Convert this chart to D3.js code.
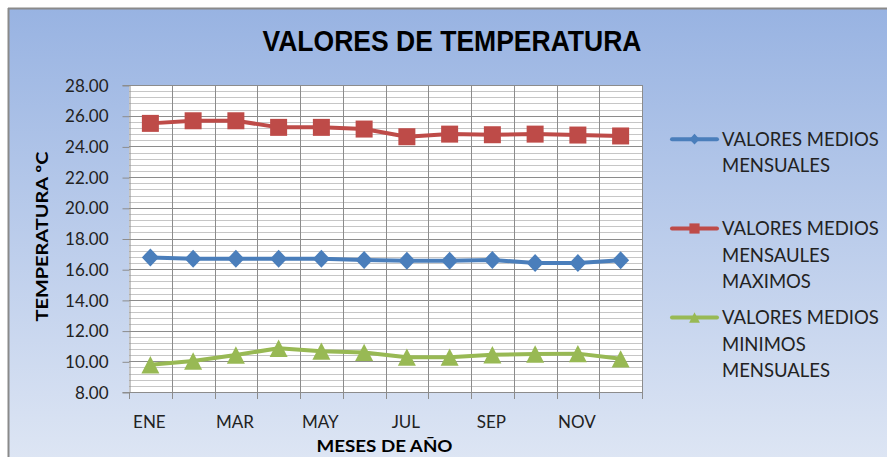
<!DOCTYPE html>
<html>
<head>
<meta charset="utf-8">
<script src="https://cdn.jsdelivr.net/npm/d3@7"></script>
<style>
  html, body { margin: 0; padding: 0; background: #ffffff; }
  svg { display: block; }
</style>
</head>
<body>
<svg id="chart" width="887" height="457"></svg>
<script>
// ---------- DATA ----------
const months = ["ENE","FEB","MAR","ABR","MAY","JUN","JUL","AGO","SEP","OCT","NOV","DIC"];
const shownMonthLabels = ["ENE","MAR","MAY","JUL","SEP","NOV"];
const yTicks = [8,10,12,14,16,18,20,22,24,26,28];
const seriesNames = [
  ["VALORES MEDIOS","MENSUALES"],
  ["VALORES MEDIOS","MENSAULES","MAXIMOS"],
  ["VALORES MEDIOS","MINIMOS","MENSUALES"]
];
const mediosMensuales = [16.77,16.68,16.68,16.68,16.68,16.6,16.55,16.55,16.6,16.4,16.4,16.58];
const mediosMaximos   = [25.5,25.67,25.67,25.24,25.24,25.13,24.63,24.8,24.76,24.8,24.74,24.68];
const mediosMinimos   = [9.78,10.02,10.41,10.85,10.66,10.58,10.27,10.27,10.43,10.48,10.5,10.16];
const chartTitle = "VALORES DE TEMPERATURA";
const yAxisTitle = "TEMPERATURA  ºC";
const xAxisTitle = "MESES DE AÑO";

// ---------- LAYOUT ----------
const svg = d3.select("#chart");
const W = 887, H = 457;
const plot = {left: 129, right: 642, top: 85, bottom: 392};
const colors = ["#4A7EBB", "#BE4B48", "#98B954"];
const fontFam = "Lato, 'Open Sans', sans-serif";

// background gradient
const defs = svg.append("defs");
const grad = defs.append("linearGradient").attr("id","bg").attr("x1",0).attr("y1",0).attr("x2",0).attr("y2",1);
grad.append("stop").attr("offset","0%").attr("stop-color","#98B3E2");
grad.append("stop").attr("offset","100%").attr("stop-color","#DEE6F4");

svg.append("rect").attr("x",0).attr("y",0).attr("width",W).attr("height",H).attr("fill","#ffffff");
svg.append("rect").attr("x",8).attr("y",8).attr("width",W).attr("height",H).attr("fill","url(#bg)");
svg.append("line").attr("x1",8).attr("x2",W).attr("y1",8.5).attr("y2",8.5).attr("stroke","#8a8a8a").attr("stroke-width",2);
svg.append("line").attr("x1",8.5).attr("x2",8.5).attr("y1",8).attr("y2",H).attr("stroke","#8a8a8a").attr("stroke-width",2);

// scales
const x = d3.scaleBand().domain(months).range([plot.left, plot.right]).padding(0);
const y = d3.scaleLinear().domain([8, 28]).range([plot.bottom, plot.top]);

// plot area
svg.append("rect").attr("x",plot.left).attr("y",plot.top)
  .attr("width",plot.right-plot.left).attr("height",plot.bottom-plot.top).attr("fill","#ffffff");

// minor gridlines (every 0.4)
const minorTicks = d3.range(8, 28.0001, 0.4).filter(v => Math.abs(v/2 - Math.round(v/2)) > 1e-6);
svg.append("g").selectAll("line").data(minorTicks).join("line")
  .attr("x1",plot.left).attr("x2",plot.right)
  .attr("y1",d => Math.round(y(d))+0.5).attr("y2",d => Math.round(y(d))+0.5)
  .attr("stroke","#c6c6c6").attr("stroke-width",1);

// major gridlines
svg.append("g").selectAll("line").data(yTicks).join("line")
  .attr("x1",plot.left).attr("x2",plot.right)
  .attr("y1",d => Math.round(y(d))+0.5).attr("y2",d => Math.round(y(d))+0.5)
  .attr("stroke","#8c8c8c").attr("stroke-width",1);

// vertical gridlines at category boundaries
const boundaries = months.map(m => x(m)).concat([plot.right]);
svg.append("g").selectAll("line").data(boundaries.slice(1)).join("line")
  .attr("x1",d => Math.round(d)+0.5).attr("x2",d => Math.round(d)+0.5)
  .attr("y1",plot.top).attr("y2",plot.bottom)
  .attr("stroke","#8c8c8c").attr("stroke-width",1);

// y axis
const yAxis = d3.axisLeft(y).tickValues(yTicks).tickFormat(d3.format(".2f")).tickSize(7).tickPadding(14);
const gy = svg.append("g").attr("transform",`translate(${plot.left+0.5},0)`).call(yAxis);
gy.select(".domain").attr("stroke","#8c8c8c");
gy.selectAll(".tick line").attr("stroke","#8c8c8c").attr("transform","translate(0,0.5)");
gy.selectAll(".tick text").attr("font-family",fontFam).attr("font-size",17).attr("fill","#222")
  .attr("dy","0.36em");

// x axis: tick marks at boundaries
svg.append("line").attr("x1",plot.left).attr("x2",plot.right)
  .attr("y1",plot.bottom+0.5).attr("y2",plot.bottom+0.5).attr("stroke","#8c8c8c");
svg.append("g").selectAll("line").data(boundaries).join("line")
  .attr("x1",d => Math.round(d)+0.5).attr("x2",d => Math.round(d)+0.5)
  .attr("y1",plot.bottom).attr("y2",plot.bottom+7)
  .attr("stroke","#8c8c8c");
svg.append("g").selectAll("text").data(shownMonthLabels).join("text")
  .attr("x",d => x(d) + x.bandwidth()/2 - 1)
  .attr("y",428)
  .attr("text-anchor","middle")
  .attr("font-family",fontFam).attr("font-size",17).attr("fill","#222")
  .text(d => d);

// series
const allSeries = [mediosMensuales, mediosMaximos, mediosMinimos];
const cx = i => x(months[i]) + x.bandwidth()/2;
const line = d3.line().x((d,i) => cx(i)).y(d => y(d));

allSeries.forEach((vals, s) => {
  svg.append("path").datum(vals).attr("d", line)
    .attr("fill","none").attr("stroke",colors[s]).attr("stroke-width",4).attr("stroke-linejoin","round");
});

function markerPath(s, px, py, scale) {
  const p = d3.path();
  if (s === 0) { // diamond
    const hw = 8.5*scale, hh = 9*scale;
    p.moveTo(px, py-hh); p.lineTo(px+hw, py); p.lineTo(px, py+hh); p.lineTo(px-hw, py); p.closePath();
  } else if (s === 1) { // square
    const h = 8.5*scale;
    p.rect(px-h, py-h, 2*h, 2*h);
  } else { // triangle
    const hw = 9*scale, hh = 8.7*scale;
    p.moveTo(px, py-hh); p.lineTo(px+hw, py+hh); p.lineTo(px-hw, py+hh); p.closePath();
  }
  return p.toString();
}

allSeries.forEach((vals, s) => {
  svg.append("g").selectAll("path").data(vals).join("path")
    .attr("d",(d,i) => markerPath(s, cx(i), y(d), 1))
    .attr("fill",colors[s]);
});

// title
svg.append("text").attr("x",452).attr("y",51).attr("text-anchor","middle")
  .attr("font-family","'Liberation Sans', Arial, sans-serif").attr("font-weight","bold")
  .attr("font-size",29).attr("fill","#000")
  .attr("textLength",379).attr("lengthAdjust","spacingAndGlyphs")
  .text(chartTitle);

// y axis title
svg.append("text").attr("transform",`translate(48,${(plot.top+plot.bottom)/2 - 2}) rotate(-90)`)
  .attr("text-anchor","middle")
  .attr("font-family",fontFam).attr("font-weight","bold").attr("font-size",17).attr("fill","#000")
  .attr("textLength",170).attr("lengthAdjust","spacingAndGlyphs")
  .text(yAxisTitle);

// x axis title
svg.append("text").attr("x",(plot.left+plot.right)/2 - 1).attr("y",452).attr("text-anchor","middle")
  .attr("font-family",fontFam).attr("font-weight","bold").attr("font-size",17).attr("fill","#000")
  .attr("textLength",136).attr("lengthAdjust","spacingAndGlyphs")
  .text(xAxisTitle);

// legend
const legendFirstBaseline = [145.7, 235, 324];
const lineH = 26.5;
seriesNames.forEach((lines, s) => {
  const b = legendFirstBaseline[s];
  const ly = b - 6.5;
  svg.append("line").attr("x1",672).attr("x2",717).attr("y1",ly).attr("y2",ly)
    .attr("stroke",colors[s]).attr("stroke-width",4).attr("stroke-linecap","round");
  svg.append("path").attr("d", markerPath(s, 694.5, ly, 0.6)).attr("fill",colors[s]);
  const t = svg.append("text").attr("font-family",fontFam).attr("font-size",18.5).attr("fill","#222");
  lines.forEach((ln, k) => {
    t.append("tspan").attr("x",722).attr("y",b + k*lineH).text(ln);
  });
});
</script>
</body>
</html>
